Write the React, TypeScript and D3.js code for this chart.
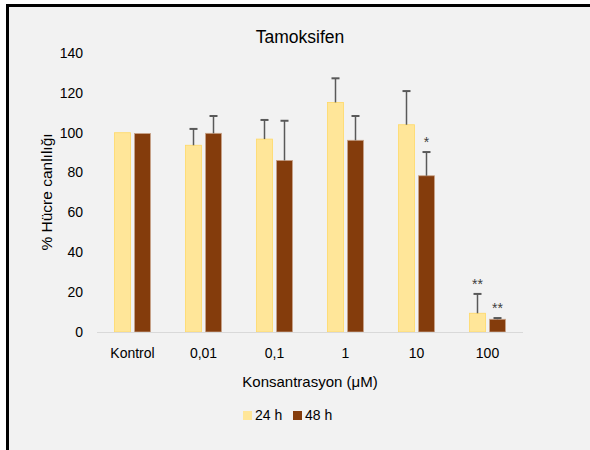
import React from "react";
import * as d3 from "d3";

const categories = ["Kontrol", "0,01", "0,1", "1", "10", "100"];
const seriesNames = ["24 h", "48 h"];
const values24 = [100, 93.7, 96.8, 115.2, 104, 9.4];
const errTop24 = [100, 101.9, 106.4, 127.3, 120.9, 19.1];
const values48 = [99.6, 99.7, 86.1, 96.2, 78.4, 6.4];
const errTop48 = [99.6, 108.4, 106, 108.4, 90.3, 7.0];
const stars24 = ["", "", "", "", "", "**"];
const stars48 = ["", "", "", "", "*", "**"];
const yTicks = [0, 20, 40, 60, 80, 100, 120, 140];

const colors = ["#FFE699", "#843C0C"];
const strokes = ["#FFD966", "#C9A48A"];

export default function App() {
  const W = 590, H = 450;
  const x0 = d3.scaleBand<string>().domain(categories).range([97, 523]);
  const x1 = d3.scaleBand<string>().domain(seriesNames).range([-18, 18]).paddingInner(0.2);
  const y = d3.scaleLinear().domain([0, 140]).range([332, 53]);
  const font = "'Liberation Sans', Arial, sans-serif";
  const series = [
    { name: seriesNames[0], vals: values24, err: errTop24, stars: stars24 },
    { name: seriesNames[1], vals: values48, err: errTop48, stars: stars48 },
  ];
  const bw = x1.bandwidth();
  return (
    <svg width={W} height={H} style={{ position: "absolute", left: 0, top: 0 }} fontFamily={font}>
      <rect x={0} y={0} width={W} height={H} fill="#ffffff" />
      <rect x={6} y={4} width={W} height={H} fill="#f2f2f2" />
      <line x1={7.5} y1={4} x2={7.5} y2={H} stroke="#000" strokeWidth={3} />
      <line x1={6} y1={5.5} x2={W} y2={5.5} stroke="#000" strokeWidth={3} />
      <text x={300} y={43} textAnchor="middle" fontSize={17.5} fill="#000">Tamoksifen</text>
      {yTicks.map((t) => (
        <text key={t} x={83} y={y(t)} dy="0.35em" textAnchor="end" fontSize={14} fill="#000">{t}</text>
      ))}
      {series.map((s, si) =>
        categories.map((c, i) => {
          const cx = (x0(c) as number) + x0.bandwidth() / 2 + (x1(s.name) as number);
          const mid = cx + bw / 2;
          return (
            <g key={s.name + c}>
              <rect x={cx} y={y(s.vals[i])} width={bw} height={y(0) - y(s.vals[i])} fill={colors[si]} stroke={strokes[si]} strokeWidth={0.8} />
              {s.err[i] > s.vals[i] && (
                <g stroke="#595959" strokeWidth={1.5}>
                  <line x1={mid} x2={mid} y1={y(s.vals[i])} y2={y(s.err[i])} />
                  <line x1={mid - 4} x2={mid + 4} y1={y(s.err[i])} y2={y(s.err[i])} strokeWidth={2} />
                </g>
              )}
              {s.stars[i] && (
                <text x={mid} y={y(s.err[i]) - 5} textAnchor="middle" fontSize={14} fill="#404040">{s.stars[i]}</text>
              )}
            </g>
          );
        })
      )}
      <line x1={97} x2={523} y1={y(0) + 0.5} y2={y(0) + 0.5} stroke="#d9d9d9" strokeWidth={1} />
      {categories.map((c) => (
        <text key={c} x={(x0(c) as number) + x0.bandwidth() / 2} y={353} dy="0.35em" textAnchor="middle" fontSize={14} fill="#000">{c}</text>
      ))}
      <text x={310} y={382} dy="0.35em" textAnchor="middle" fontSize={15} fill="#000">Konsantrasyon (μM)</text>
      <text transform={`translate(47,192) rotate(-90)`} dy="0.35em" textAnchor="middle" fontSize={15.5} fill="#000">% Hücre canlılığı</text>
      {seriesNames.map((n, i) => (
        <g key={n} transform={`translate(${243 + i * 50},411)`}>
          <rect x={0} y={0} width={9} height={9} fill={colors[i]} />
          <text x={12} y={4.5} dy="0.35em" fontSize={14} fill="#000">{n}</text>
        </g>
      ))}
    </svg>
  );
}
